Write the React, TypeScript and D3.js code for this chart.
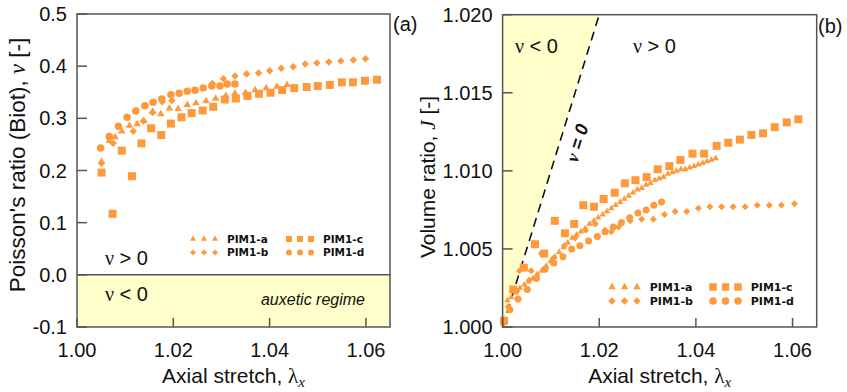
import * as d3 from 'd3'

// ---- data: panel (a) Poisson's ratio vs axial stretch ----
const nuPIM1a: [number, number][] = [
  [1.0051, 0.217], [1.0067, 0.257], [1.0079, 0.264], [1.0093, 0.275], [1.0109, 0.286],
  [1.0125, 0.289], [1.0139, 0.295], [1.0157, 0.313], [1.0174, 0.308], [1.0192, 0.319],
  [1.0210, 0.318], [1.0229, 0.326], [1.0247, 0.329], [1.0268, 0.333], [1.0288, 0.338],
  [1.0309, 0.343], [1.0328, 0.348], [1.0350, 0.349], [1.0370, 0.354], [1.0393, 0.358],
  [1.0415, 0.361], [1.0436, 0.364],
]
const nuPIM1b: [number, number][] = [
  [1.0051, 0.214], [1.0075, 0.252], [1.0117, 0.275], [1.0138, 0.295], [1.0157, 0.311],
  [1.0177, 0.332], [1.0197, 0.334], [1.0281, 0.367], [1.0304, 0.376], [1.0328, 0.381],
  [1.0352, 0.385], [1.0377, 0.387], [1.0400, 0.391], [1.0424, 0.396], [1.0449, 0.399],
  [1.0474, 0.404], [1.0498, 0.406], [1.0523, 0.408], [1.0548, 0.410], [1.0574, 0.412],
  [1.0599, 0.414],
]
const nuPIM1c: [number, number][] = [
  [1.0051, 0.196], [1.0074, 0.117], [1.0093, 0.238], [1.0114, 0.189], [1.0134, 0.252],
  [1.0154, 0.281], [1.0175, 0.268], [1.0195, 0.290], [1.0217, 0.302], [1.0238, 0.310],
  [1.0261, 0.315], [1.0283, 0.322], [1.0307, 0.336], [1.0330, 0.338], [1.0354, 0.343],
  [1.0378, 0.347], [1.0402, 0.349], [1.0426, 0.354], [1.0451, 0.358], [1.0477, 0.360],
  [1.0500, 0.362], [1.0525, 0.364], [1.0550, 0.369], [1.0573, 0.369], [1.0598, 0.372],
  [1.0623, 0.374],
]
const nuPIM1d: [number, number][] = [
  [1.0049, 0.243], [1.0067, 0.265], [1.0086, 0.285], [1.0104, 0.302], [1.0122, 0.314],
  [1.0141, 0.324], [1.0158, 0.331], [1.0176, 0.337], [1.0195, 0.345], [1.0212, 0.348],
  [1.0229, 0.352], [1.0245, 0.354], [1.0262, 0.358], [1.0280, 0.362], [1.0297, 0.362],
  [1.0312, 0.366], [1.0328, 0.366],
]

// ---- data: panel (b) volume ratio vs axial stretch ----
const jPIM1a: [number, number][] = [
  [1.0003, 1.0005], [1.0010, 1.0017], [1.0018, 1.0019], [1.0027, 1.0022], [1.0036, 1.0025],
  [1.0045, 1.0027], [1.0054, 1.0029], [1.0063, 1.0031], [1.0072, 1.0034], [1.0081, 1.0036],
  [1.0090, 1.0039], [1.0099, 1.0042], [1.0108, 1.0045], [1.0117, 1.0048], [1.0126, 1.0051],
  [1.0135, 1.0054], [1.0144, 1.0057], [1.0153, 1.0059], [1.0162, 1.0061], [1.0171, 1.0063],
  [1.0180, 1.0066], [1.0189, 1.0068], [1.0198, 1.0070], [1.0207, 1.0072], [1.0216, 1.0074],
  [1.0225, 1.0076], [1.0234, 1.0078], [1.0243, 1.0080], [1.0252, 1.0082], [1.0261, 1.0084],
  [1.0270, 1.0086], [1.0279, 1.0088], [1.0288, 1.0089], [1.0297, 1.0091], [1.0306, 1.0092],
  [1.0315, 1.0094], [1.0324, 1.0095], [1.0333, 1.0096], [1.0342, 1.0098], [1.0351, 1.0099],
  [1.0360, 1.0100], [1.0369, 1.0101], [1.0378, 1.0101], [1.0387, 1.0102], [1.0396, 1.0103],
  [1.0405, 1.0104], [1.0414, 1.0105], [1.0423, 1.0106], [1.0432, 1.0107], [1.0441, 1.0108],
]
const jPIM1b: [number, number][] = [
  [1.0002, 1.0004], [1.0012, 1.0013], [1.0035, 1.0036], [1.0059, 1.0036], [1.0030, 1.0023],
  [1.0055, 1.0030], [1.0080, 1.0047], [1.0105, 1.0044], [1.0128, 1.0052], [1.0150, 1.0057],
  [1.0172, 1.0062], [1.0192, 1.0066], [1.0212, 1.0062], [1.0225, 1.0061], [1.0240, 1.0064],
  [1.0264, 1.0068], [1.0288, 1.0069], [1.0312, 1.0069], [1.0335, 1.0072], [1.0357, 1.0074],
  [1.0381, 1.0074], [1.0405, 1.0076], [1.0429, 1.0077], [1.0453, 1.0077], [1.0477, 1.0077],
  [1.0502, 1.0077], [1.0527, 1.0078], [1.0552, 1.0078], [1.0577, 1.0078], [1.0604, 1.0079],
]
const jPIM1c: [number, number][] = [
  [1.0003, 1.0004], [1.0022, 1.0024], [1.0044, 1.0038], [1.0067, 1.0053], [1.0086, 1.0047],
  [1.0108, 1.0068], [1.0129, 1.0060], [1.0148, 1.0066], [1.0167, 1.0078], [1.0189, 1.0077],
  [1.0209, 1.0082], [1.0232, 1.0086], [1.0253, 1.0092], [1.0275, 1.0094], [1.0298, 1.0096],
  [1.0321, 1.0101], [1.0345, 1.0103], [1.0368, 1.0107], [1.0393, 1.0111], [1.0417, 1.0111],
  [1.0443, 1.0116], [1.0467, 1.0118], [1.0491, 1.0120], [1.0515, 1.0123], [1.0539, 1.0124],
  [1.0563, 1.0128], [1.0588, 1.0131], [1.0612, 1.0133],
]
const jPIM1d: [number, number][] = [
  [1.0002, 1.0003], [1.0015, 1.0011], [1.0032, 1.0018], [1.0051, 1.0024], [1.0070, 1.0031],
  [1.0088, 1.0037], [1.0106, 1.0041], [1.0125, 1.0045], [1.0143, 1.0050], [1.0160, 1.0052],
  [1.0178, 1.0055], [1.0196, 1.0058], [1.0212, 1.0061], [1.0229, 1.0064], [1.0246, 1.0067],
  [1.0263, 1.0070], [1.0280, 1.0073], [1.0297, 1.0075], [1.0313, 1.0078], [1.0329, 1.0080],
]

const stretchTicks = [1.0, 1.02, 1.04, 1.06]
const nuTicks = [0.5, 0.4, 0.3, 0.2, 0.1, 0.0, -0.1]
const jTicks = [1.0, 1.005, 1.01, 1.015, 1.02]
const seriesNames = ['PIM1-a', 'PIM1-b', 'PIM1-c', 'PIM1-d']

const ORANGE = '#fe9a3b'
const YELLOW = '#ffffcc'
const FRAME = '#555'
const SANS = 'Arial, "Liberation Sans", sans-serif'
const SERIF = '"Times New Roman", "Liberation Serif", serif'
const LEG_FONT = 'Verdana, "DejaVu Sans", sans-serif'

// plain hyphen for negatives, like the original figure
const fmt = (spec: string) => (v: number) => d3.format(spec)(v).replace('\u2212', '-')

type Shape = 'tri' | 'dia' | 'sq' | 'circ'
const shapes: Shape[] = ['tri', 'dia', 'sq', 'circ']

function Marker({ shape, x, y, s }: { shape: Shape; x: number; y: number; s: number }) {
  // s ~ visual width in px
  let d = ''
  let rot = 0
  if (shape === 'tri') d = d3.symbol().type(d3.symbolTriangle).size((Math.sqrt(3) / 4) * s * s)()!
  if (shape === 'sq') d = d3.symbol().type(d3.symbolSquare).size(s * s)()!
  if (shape === 'dia') { d = d3.symbol().type(d3.symbolSquare).size((s * s) / 2)()!; rot = 45 }
  if (shape === 'circ') d = d3.symbol().type(d3.symbolCircle).size((Math.PI * s * s) / 4)()!
  return <path d={d} transform={`translate(${x},${y}) rotate(${rot})`} fill={ORANGE} />
}

function Legend({ x0, y0, s, col2, dy, fs }: { x0: number; y0: number; s: number; col2: number; dy: number; fs: number }) {
  const step = s + 5
  return (
    <g>
      {seriesNames.map((name, i) => {
        const col = i < 2 ? 0 : 1
        const row = i % 2
        const mx = x0 + col * col2
        const my = y0 + row * dy
        return (
          <g key={name}>
            {[0, 1, 2].map(k => (
              <Marker key={k} shape={shapes[i]} x={mx + k * step} y={my} s={s} />
            ))}
            <text x={mx + 2 * step + s / 2 + 9} y={my + fs * 0.38} fontFamily={LEG_FONT} fontWeight="bold" fontSize={fs} fill="#111">
              {name}
            </text>
          </g>
        )
      })}
    </g>
  )
}

function PanelA() {
  const x = d3.scaleLinear().domain([1.0, 1.065]).range([77, 390])
  const y = d3.scaleLinear().domain([-0.1, 0.5]).range([327, 14])
  const [x0, x1] = x.range()
  const [yb, yt] = y.range()
  const series = [nuPIM1a, nuPIM1b, nuPIM1c, nuPIM1d]
  return (
    <g>
      <rect x={x0} y={y(0)} width={x1 - x0} height={yb - y(0)} fill={YELLOW} />
      <line x1={x0} x2={x1} y1={y(0)} y2={y(0)} stroke={FRAME} strokeWidth={1.5} />
      {series.map((data, i) =>
        data.map((d, k) => <Marker key={`${i}-${k}`} shape={shapes[i]} x={x(d[0])} y={y(d[1])} s={i === 2 ? 8 : 7.5} />)
      )}
      {stretchTicks.map(t => (
        <g key={t}>
          <line x1={x(t)} x2={x(t)} y1={yb} y2={yb - 9} stroke={FRAME} strokeWidth={1.5} />
          <text x={x(t)} y={357} textAnchor="middle" fontFamily={SANS} fontSize={20} fill="#111">{fmt('.2f')(t)}</text>
        </g>
      ))}
      {nuTicks.map(t => (
        <g key={t}>
          <line x1={x0} x2={x0 + 10} y1={y(t)} y2={y(t)} stroke={FRAME} strokeWidth={1.5} />
          <text x={x0 - 10} y={y(t) + 7} textAnchor="end" fontFamily={SANS} fontSize={20} fill="#111">{fmt('.1f')(t)}</text>
        </g>
      ))}
      <rect x={x0} y={yt} width={x1 - x0} height={yb - yt} fill="none" stroke={FRAME} strokeWidth={1.5} />
      <text x={105} y={265} fontFamily={SANS} fontSize={20} fill="#111"><tspan fontFamily={SERIF}>ν</tspan> &gt; 0</text>
      <text x={105} y={301} fontFamily={SANS} fontSize={20} fill="#111"><tspan fontFamily={SERIF}>ν</tspan> &lt; 0</text>
      <text x={365} y={305} textAnchor="end" fontFamily={SANS} fontStyle="italic" fontSize={16} fill="#111">auxetic regime</text>
      <Legend x0={193} y0={239} s={6} col2={96} dy={13.5} fs={10.5} />
      <text x={(x0 + x1) / 2} y={383} textAnchor="middle" fontFamily={SANS} fontSize={21} fill="#111">
        Axial stretch, <tspan fontFamily={SERIF}>λ</tspan><tspan fontFamily={SERIF} fontStyle="italic" fontSize={15} dy={4}>x</tspan>
      </text>
      <text transform={`translate(25,165) rotate(-90)`} textAnchor="middle" fontFamily={SANS} fontSize={22.5} fill="#111">
        Poisson's ratio (Biot), <tspan fontFamily={SERIF} fontStyle="italic">ν</tspan> [-]
      </text>
      <text x={393} y={31} fontFamily={SANS} fontSize={20} fill="#111">(a)</text>
    </g>
  )
}

function PanelB() {
  const x = d3.scaleLinear().domain([1.0, 1.065]).range([502.6, 816.7])
  const y = d3.scaleLinear().domain([1.0, 1.02]).range([327, 14.7])
  const [x0, x1] = x.range()
  const [yb, yt] = y.range()
  const series = [jPIM1a, jPIM1b, jPIM1c, jPIM1d]
  const sizes = [6.5, 7, 8, 7]
  // nu = 0 boundary: J = lambda
  const tri = [[1.0, 1.0], [1.02, 1.02], [1.0, 1.02]]
  const ang = (Math.atan2(y(1.02) - y(1.0), x(1.02) - x(1.0)) * 180) / Math.PI
  return (
    <g>
      <path d={d3.line()(tri.map(p => [x(p[0]), y(p[1])]) as [number, number][]) + 'Z'} fill={YELLOW} />
      <line x1={x(1.0)} y1={y(1.0)} x2={x(1.02)} y2={y(1.02)} stroke="#111" strokeWidth={1.6} strokeDasharray="9,6" />
      {series.map((data, i) =>
        data.map((d, k) => <Marker key={`${i}-${k}`} shape={shapes[i]} x={x(d[0])} y={y(d[1])} s={sizes[i]} />)
      )}
      {stretchTicks.map(t => (
        <g key={t}>
          <line x1={x(t)} x2={x(t)} y1={yb} y2={yb - 9} stroke={FRAME} strokeWidth={1.5} />
          <text x={x(t)} y={357} textAnchor="middle" fontFamily={SANS} fontSize={20} fill="#111">{fmt('.2f')(t)}</text>
        </g>
      ))}
      {jTicks.map(t => (
        <g key={t}>
          <line x1={x0} x2={x0 + 10} y1={y(t)} y2={y(t)} stroke={FRAME} strokeWidth={1.5} />
          <text x={x0 - 10} y={y(t) + 7} textAnchor="end" fontFamily={SANS} fontSize={20} fill="#111">{fmt('.3f')(t)}</text>
        </g>
      ))}
      <rect x={x0} y={yt} width={x1 - x0} height={yb - yt} fill="none" stroke={FRAME} strokeWidth={1.5} />
      <text x={515} y={53} fontFamily={SANS} fontSize={20} fill="#111"><tspan fontFamily={SERIF}>ν</tspan> &lt; 0</text>
      <text x={633} y={53} fontFamily={SANS} fontSize={20} fill="#111"><tspan fontFamily={SERIF}>ν</tspan> &gt; 0</text>
      <text transform={`translate(577,143) rotate(${ang})`} textAnchor="middle" dy="0.35em" fontFamily={SANS} fontWeight="bold" fontStyle="italic" fontSize={18} fill="#111">
        <tspan fontFamily={SERIF}>ν</tspan> = 0
      </text>
      <Legend x0={612} y0={287} s={7.5} col2={101} dy={14} fs={11} />
      <text x={(x0 + x1) / 2} y={383} textAnchor="middle" fontFamily={SANS} fontSize={21} fill="#111">
        Axial stretch, <tspan fontFamily={SERIF}>λ</tspan><tspan fontFamily={SERIF} fontStyle="italic" fontSize={15} dy={4}>x</tspan>
      </text>
      <text transform={`translate(435,177) rotate(-90)`} textAnchor="middle" fontFamily={SANS} fontSize={21} fill="#111">
        Volume ratio, <tspan fontFamily={SERIF} fontStyle="italic">J</tspan> [-]
      </text>
      <text x={818} y={33} fontFamily={SANS} fontSize={20} fill="#111">(b)</text>
    </g>
  )
}

export default function App() {
  return (
    <svg width={847} height={392} style={{ position: 'absolute', left: 0, top: 0, background: '#fff' }}>
      <rect width={847} height={392} fill="#fff" />
      <PanelA />
      <PanelB />
    </svg>
  )
}
